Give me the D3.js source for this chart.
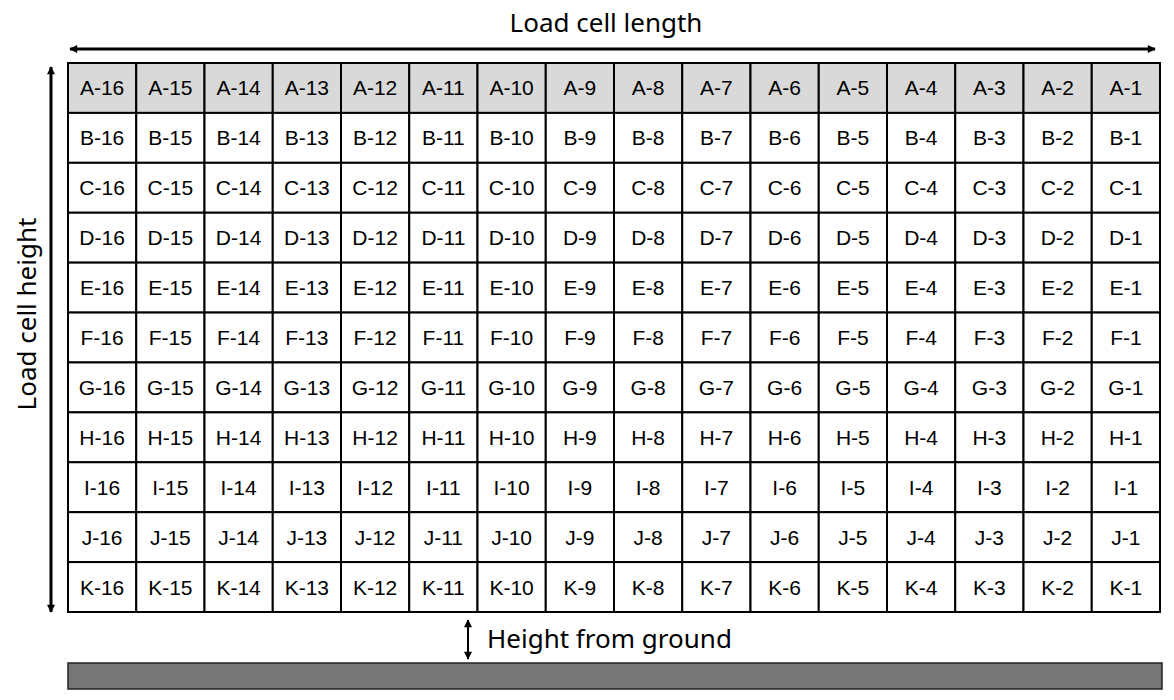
<!DOCTYPE html><html><head><meta charset="utf-8">
<script src="https://d3js.org/d3.v7.min.js"></script>
<style>body{margin:0;background:#fff}</style></head><body><svg id="c" width="1174" height="700"></svg>
<script>
const rows = ["A","B","C","D","E","F","G","H","I","J","K"];
const cols = [16,15,14,13,12,11,10,9,8,7,6,5,4,3,2,1];
const highlightRow = "A";
const svg = d3.select("#c");
const x = d3.scaleBand().domain(cols).range([68,1160]);
const y = d3.scaleBand().domain(rows).range([63,612]);
const defs = svg.append("defs");
defs.append("marker").attr("id","ar").attr("viewBox","0 0 10 10").attr("refX",9).attr("refY",5)
 .attr("markerWidth",10).attr("markerHeight",8).attr("orient","auto-start-reverse").attr("markerUnits","userSpaceOnUse")
 .append("path").attr("d","M0,0L10,5L0,10z").attr("fill","#000");
const cells=[];rows.forEach(r=>cols.forEach(c=>cells.push({r,c})));
const g=svg.append("g");
g.selectAll("rect").data(cells).join("rect").attr("x",d=>x(d.c)).attr("y",d=>y(d.r))
 .attr("width",x.bandwidth()).attr("height",y.bandwidth())
 .attr("fill",d=>d.r===highlightRow?"#d9d9d9":"#fff").attr("stroke","#000").attr("stroke-width",2);
g.selectAll("text").data(cells).join("text").attr("x",d=>x(d.c)+x.bandwidth()/2).attr("y",d=>y(d.r)+y.bandwidth()/2+7.5)
 .attr("text-anchor","middle").attr("font-family","Liberation Sans, Arial").attr("font-size",21).text(d=>d.r+"-"+d.c);
svg.append("line").attr("x1",70).attr("x2",1155).attr("y1",49).attr("y2",49).attr("stroke","#000").attr("stroke-width",3)
 .attr("marker-start","url(#ar)").attr("marker-end","url(#ar)");
svg.append("line").attr("x1",51).attr("x2",51).attr("y1",67).attr("y2",612).attr("stroke","#000").attr("stroke-width",3)
 .attr("marker-start","url(#ar)").attr("marker-end","url(#ar)");
svg.append("line").attr("x1",468).attr("x2",468).attr("y1",620).attr("y2",659).attr("stroke","#000").attr("stroke-width",2)
 .attr("marker-start","url(#ar)").attr("marker-end","url(#ar)");
const tf="Noto Sans, Open Sans, sans-serif";
svg.append("text").attr("x",606).attr("y",32).attr("text-anchor","middle").attr("font-family",tf).attr("font-size",26).text("Load cell length");
svg.append("text").attr("transform","translate(36,314) rotate(-90)").attr("text-anchor","middle").attr("font-family",tf).attr("font-size",26).text("Load cell height");
svg.append("text").attr("x",487).attr("y",648).attr("font-family",tf).attr("font-size",26).text("Height from ground");
svg.append("rect").attr("x",68).attr("y",663).attr("width",1094).attr("height",26).attr("fill","#767676").attr("stroke","#222").attr("stroke-width",1.5);
</script></body></html>
